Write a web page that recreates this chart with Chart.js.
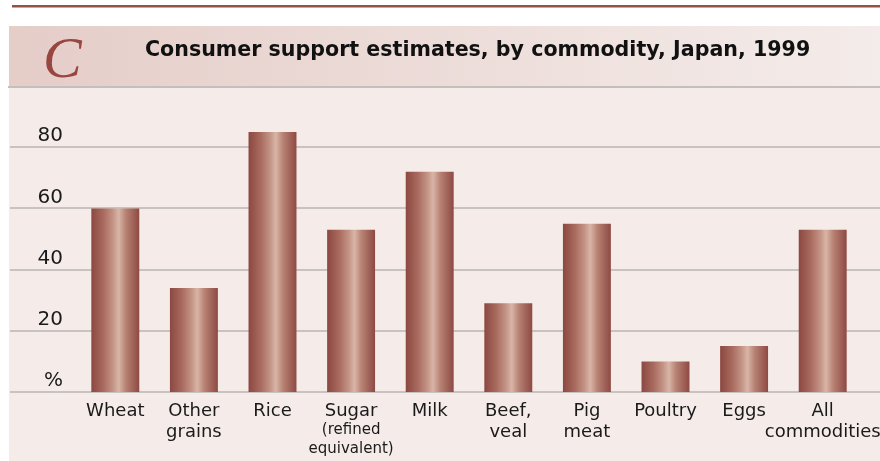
<!DOCTYPE html>
<html>
<head>
<meta charset="utf-8">
<script src="https://cdn.jsdelivr.net/npm/chart.js@4.4.1/dist/chart.umd.min.js"></script>
<style>
    html, body { margin: 0; padding: 0; background: #ffffff; }
    #wrap { position: relative; width: 880px; height: 461px; }
</style>
</head>
<body>
<div id="wrap"><canvas id="cseChart" width="880" height="461"></canvas></div>
<script>
// Consumer support estimates (%), Japan 1999
const categories = [
    ['Wheat'], ['Other', 'grains'], ['Rice'], ['Sugar'], ['Milk'],
    ['Beef,', 'veal'], ['Pig', 'meat'], ['Poultry'], ['Eggs'], ['All', 'commodities']
];
const categoryNotes = { 3: ['(refined', 'equivalent)'] }; // smaller sub-lines under Sugar
const cseValues = [60, 34, 85, 53, 72, 29, 55, 10, 15, 53];
const yTicks = [0, 20, 40, 60, 80];

const chartTitle = 'Consumer support estimates, by commodity, Japan, 1999';
const panelLetter = 'C';

const BAR_PX = 48;

// Metallic look: horizontal gradient across each bar
function barGradient(context) {
    const chart = context.chart;
    const x = chart.scales.x;
    if (!chart.chartArea || !x) return '#a0605a';
    const cx = x.getPixelForValue(context.dataIndex);
    const g = chart.ctx.createLinearGradient(cx - BAR_PX / 2, 0, cx + BAR_PX / 2, 0);
    g.addColorStop(0, '#8b4841');
    g.addColorStop(0.25, '#a96a5e');
    g.addColorStop(0.45, '#c39486');
    g.addColorStop(0.57, '#d9b5a7');
    g.addColorStop(0.72, '#b78273');
    g.addColorStop(1, '#8e4943');
    return g;
}

// Page furniture: rule, header band, panel background and full-width grid lines
const backdrop = {
    id: 'backdrop',
    beforeDraw(chart) {
        const ctx = chart.ctx;
        const y = chart.scales.y;
        ctx.save();

        // top rule
        ctx.fillStyle = '#96504a';
        ctx.fillRect(12, 5, 868, 2.5);

        // header band
        const hg = ctx.createLinearGradient(9, 0, 880, 0);
        hg.addColorStop(0, '#e5cdc8');
        hg.addColorStop(1, '#f4ecea');
        ctx.fillStyle = hg;
        ctx.fillRect(9, 26, 871, 61);

        // panel body
        ctx.fillStyle = '#f5ecea';
        ctx.fillRect(9, 87, 871, 374);

        ctx.fillStyle = '#c4bfbd';
        ctx.fillRect(8, 86, 872, 2);

        // horizontal grid lines across the whole panel
        ctx.fillStyle = '#c8c3c1';
        yTicks.forEach(v => {
            const py = Math.round(y.getPixelForValue(v));
            ctx.fillRect(10, py - 1, 870, 2);
        });

        // panel letter and title
        ctx.fillStyle = '#974640';
        ctx.font = 'italic 58px "Liberation Serif", serif';
        ctx.textBaseline = 'alphabetic';
        ctx.textAlign = 'left';
        ctx.fillText(panelLetter, 43, 77);

        ctx.fillStyle = '#111111';
        ctx.font = 'bold 20.6px "DejaVu Sans", sans-serif';
        ctx.fillText(chartTitle, 145, 56);
        ctx.restore();
    },
    afterDraw(chart) {
        // category labels under the bars
        const ctx = chart.ctx;
        const x = chart.scales.x;
        ctx.save();
        ctx.fillStyle = '#1a1a1a';
        ctx.textAlign = 'center';
        ctx.textBaseline = 'middle';
        categories.forEach((lines, i) => {
            const cx = x.getPixelForValue(i);
            ctx.font = '18px "DejaVu Sans", sans-serif';
            lines.forEach((t, k) => ctx.fillText(t, cx, 411 + k * 21));
            const notes = categoryNotes[i];
            if (notes) {
                ctx.font = '15px "DejaVu Sans", sans-serif';
                notes.forEach((t, k) => ctx.fillText(t, cx, 430 + k * 19));
            }
        });
        ctx.restore();
    }
};

const ctx = document.getElementById('cseChart').getContext('2d');
new Chart(ctx, {
    type: 'bar',
    data: {
        labels: categories.map(l => l.join(' ')),
        datasets: [{
            label: 'CSE',
            data: cseValues,
            backgroundColor: barGradient,
            borderWidth: 0,
            barPercentage: 0.61,
            categoryPercentage: 1
        }]
    },
    options: {
        responsive: false,
        animation: false,
        layout: { padding: { top: 86, right: 18, left: 0, bottom: 0 } },
        plugins: {
            legend: { display: false },
            tooltip: { enabled: false }
        },
        scales: {
            x: {
                grid: { display: false, drawTicks: false },
                border: { display: false },
                ticks: { display: false },
                afterFit: scale => { scale.height = 69; }
            },
            y: {
                min: 0,
                max: 100,
                grid: { display: false, drawTicks: false },
                border: { display: false },
                afterFit: scale => { scale.width = 76; },
                afterBuildTicks: scale => { scale.ticks = yTicks.map(v => ({ value: v })); },
                ticks: {
                    padding: 13,
                    labelOffset: -11,
                    color: '#1a1a1a',
                    font: { family: '"DejaVu Sans", sans-serif', size: 20 },
                    callback: v => (v === 0 ? '%' : v)
                }
            }
        }
    },
    plugins: [backdrop]
});
</script>
</body>
</html>
